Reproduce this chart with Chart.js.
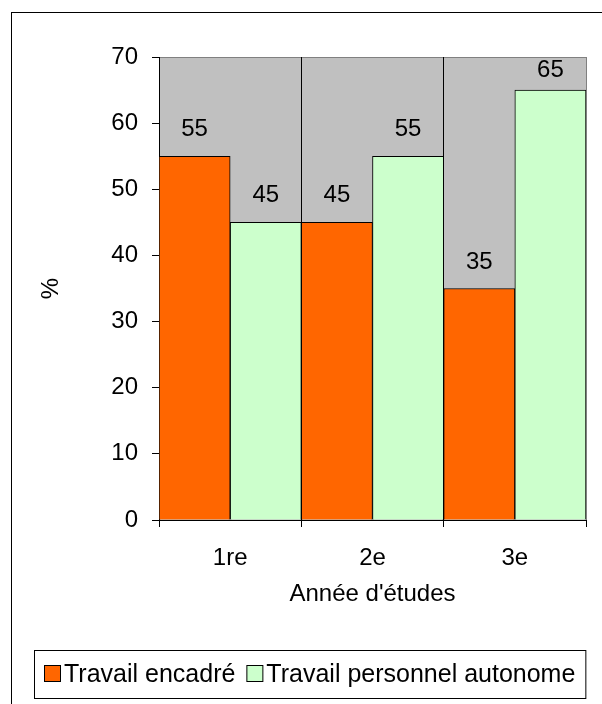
<!DOCTYPE html>
<html>
<head>
<meta charset="utf-8">
<script src="https://cdn.jsdelivr.net/npm/chart.js@4/dist/chart.umd.min.js"></script>
<style>
  html, body { margin: 0; padding: 0; background: #ffffff; }
  #wrap { width: 602px; height: 704px; }
</style>
</head>
<body>
<div id="wrap"><canvas id="chart" width="602" height="704"></canvas></div>
<script>
// Répartition du temps de travail par année d'études (%)
const categories = ['1re', '2e', '3e'];
const travailEncadre = [55, 45, 35];
const travailAutonome = [45, 55, 65];
const yTicks = [0, 10, 20, 30, 40, 50, 60, 70];
const seriesNames = ['Travail encadré', 'Travail personnel autonome'];
const seriesColors = ['#FF6600', '#CCFFCC'];

const FONT = "'Liberation Sans', Arial, Helvetica, sans-serif";

// White page with the outer frame, grey plot area behind the grid
const framePlugin = {
  id: 'frame',
  beforeDraw(chart) {
    const { ctx, chartArea: a } = chart;
    ctx.save();
    ctx.fillStyle = '#ffffff';
    ctx.fillRect(0, 0, chart.width, chart.height);
    ctx.strokeStyle = '#000000';
    ctx.lineWidth = 1;
    ctx.strokeRect(11.5, 12.5, 1200, 1200);
    ctx.fillStyle = '#C0C0C0';
    ctx.fillRect(a.left, a.top, a.right - a.left, a.bottom - a.top);
    ctx.strokeStyle = '#808080';
    ctx.beginPath();
    ctx.moveTo(a.left, a.top + 0.5);
    ctx.lineTo(a.right + 0.5, a.top + 0.5);
    ctx.lineTo(a.right + 0.5, a.bottom);
    ctx.stroke();
    ctx.restore();
  }
};

// Value printed above each bar, kept inside the plot area
const valueLabels = {
  id: 'valueLabels',
  afterDatasetsDraw(chart) {
    const { ctx, chartArea: a } = chart;
    ctx.save();
    ctx.font = '24px ' + FONT;
    ctx.fillStyle = '#000000';
    ctx.textAlign = 'center';
    ctx.textBaseline = 'alphabetic';
    chart.data.datasets.forEach((ds, i) => {
      const meta = chart.getDatasetMeta(i);
      meta.data.forEach((bar, j) => {
        const y = Math.max(bar.y - 20, a.top + 20);
        ctx.fillText(String(ds.data[j]), bar.x, y);
      });
    });
    ctx.restore();
  }
};

// Boxed legend below the axis title
const boxedLegend = {
  id: 'boxedLegend',
  afterDraw(chart) {
    const { ctx } = chart;
    const sw = 16, gapText = 4, gapItem = 11, pad = 10;
    const centerX = 310, boxTop = 650.5, boxBottom = 698.5, baseline = 682;
    ctx.save();
    ctx.font = '25px ' + FONT;
    const items = chart.data.datasets.map(ds => ({
      text: ds.label, color: ds.backgroundColor, w: ctx.measureText(ds.label).width
    }));
    const total = items.reduce((s, it) => s + sw + gapText + it.w, 0) + gapItem * (items.length - 1);
    let x = Math.round(centerX - total / 2);
    ctx.strokeStyle = '#000000';
    ctx.lineWidth = 1;
    ctx.strokeRect(x - pad + 0.5, boxTop, total + 2 * pad, boxBottom - boxTop);
    items.forEach(it => {
      ctx.fillStyle = it.color;
      ctx.fillRect(x + 0.5, 665.5, sw, sw);
      ctx.strokeRect(x + 0.5, 665.5, sw, sw);
      ctx.fillStyle = '#000000';
      ctx.textAlign = 'left';
      ctx.textBaseline = 'alphabetic';
      ctx.fillText(it.text, x + sw + gapText, baseline);
      x += sw + gapText + it.w + gapItem;
    });
    ctx.restore();
  }
};

Chart.defaults.font.family = FONT;
Chart.defaults.color = '#000000';

new Chart(document.getElementById('chart'), {
  type: 'bar',
  data: {
    labels: categories,
    datasets: [
      {
        label: seriesNames[0],
        data: travailEncadre,
        backgroundColor: seriesColors[0],
        borderColor: '#000000',
        borderWidth: 1,
        categoryPercentage: 1,
        barPercentage: 1
      },
      {
        label: seriesNames[1],
        data: travailAutonome,
        backgroundColor: seriesColors[1],
        borderColor: '#000000',
        borderWidth: 1,
        categoryPercentage: 1,
        barPercentage: 1
      }
    ]
  },
  options: {
    responsive: false,
    animation: false,
    devicePixelRatio: 1,
    layout: { padding: { top: 57, right: 16, bottom: 84, left: 0 } },
    plugins: {
      legend: { display: false },
      tooltip: { enabled: false }
    },
    scales: {
      x: {
        offset: true,
        afterFit(scale) { scale.height = 100; },
        grid: {
          offset: true,
          drawOnChartArea: true,
          color: (c) => (c.index === undefined ? '#808080' : '#000000'),
          tickColor: '#000000',
          tickLength: 7,
          lineWidth: 1
        },
        border: { display: true, color: '#000000', width: 1 },
        ticks: { font: { size: 24 }, color: '#000000', padding: 17, maxRotation: 0 },
        title: {
          display: true,
          text: "Année d'études",
          font: { size: 24 },
          color: '#000000',
          padding: { top: 0, bottom: 11 }
        }
      },
      y: {
        min: 0,
        max: 70,
        afterFit(scale) { scale.width = 159; },
        afterBuildTicks(scale) { scale.ticks = yTicks.map(v => ({ value: v })); },
        grid: {
          drawOnChartArea: false,
          tickColor: '#000000',
          tickLength: 7,
          lineWidth: 1
        },
        border: { display: true, color: '#000000', width: 1 },
        ticks: { font: { size: 24 }, color: '#000000', padding: 14 },
        title: {
          display: true,
          text: '%',
          font: { size: 24 },
          color: '#000000',
          padding: { top: 37, bottom: 0 }
        }
      }
    }
  },
  plugins: [framePlugin, valueLabels, boxedLegend]
});
</script>
</body>
</html>
